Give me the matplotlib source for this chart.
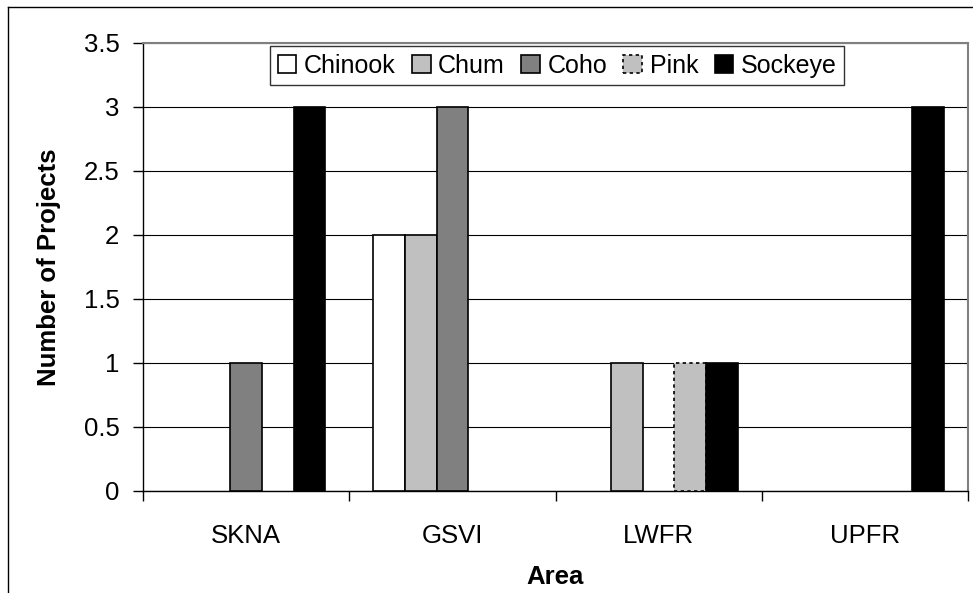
import matplotlib.pyplot as plt
from matplotlib.lines import Line2D
import numpy as np

plt.rcParams['font.family'] = ['Liberation Sans', 'DejaVu Sans']

areas = ['SKNA', 'GSVI', 'LWFR', 'UPFR']
species = ['Chinook', 'Chum', 'Coho', 'Pink', 'Sockeye']
chinook = [0, 2, 0, 0]
chum = [0, 2, 1, 0]
coho = [1, 3, 0, 0]
pink = [0, 0, 1, 0]
sockeye = [3, 0, 1, 3]
yticks = [0, 0.5, 1, 1.5, 2, 2.5, 3, 3.5]

series = [chinook, chum, coho, pink, sockeye]
fills = ['white', '#c0c0c0', '#808080', '#c0c0c0', 'black']
styles = ['solid', 'solid', 'solid', (0, (2, 2)), 'solid']

fig = plt.figure(figsize=(9.73, 5.93), dpi=100)
ax = fig.add_axes([143/973, 1 - 491/593, 825/973, 448/593])

x = np.arange(len(areas))
w = 1 / 6.5
for i, vals in enumerate(series):
    vals = np.array(vals, dtype=float)
    keep = vals > 0
    ax.bar((x + (i - 2) * w)[keep], vals[keep], w, color=fills[i], edgecolor='black',
           linewidth=1.2, linestyle=styles[i], zorder=3)
    # legend proxy
    ax.bar([0], [0], 0, color=fills[i], edgecolor='black', linewidth=1.2,
           linestyle=styles[i], label=species[i])

ax.set_xlim(-0.5, 3.5)
ax.set_ylim(0, 3.5)
ax.set_yticks(yticks)
ax.set_yticklabels(['0', '0.5', '1', '1.5', '2', '2.5', '3', '3.5'])
ax.yaxis.grid(True, color='black', linewidth=0.8, zorder=0)
ax.set_xticks(x)
ax.set_xticklabels(areas)
ax.set_xticks(np.arange(-0.5, 4, 1), minor=True)
ax.tick_params(axis='x', which='major', length=0, pad=24, labelsize=18.5)
ax.tick_params(axis='x', which='minor', length=7, width=1, direction='out')
ax.tick_params(axis='y', length=7, width=1, labelsize=18.5, pad=10)

for s in ['top', 'right']:
    ax.spines[s].set_color('#808080')
    ax.spines[s].set_linewidth(1.5)
for s in ['left', 'bottom']:
    ax.spines[s].set_color('black')
    ax.spines[s].set_linewidth(1)

ax.set_xlabel('Area', fontsize=18.5, fontweight='bold', labelpad=12)
ax.set_ylabel('Number of Projects', fontsize=18.5, fontweight='bold', labelpad=16)

leg = ax.legend(loc='upper center', bbox_to_anchor=(0.502, 0.993), ncol=5,
                fontsize=18, frameon=True, fancybox=False, edgecolor='black',
                handlelength=0.75, handleheight=0.75, handletextpad=0.3,
                columnspacing=0.65, borderpad=0.3, borderaxespad=0.0)
leg.get_frame().set_linewidth(1)

# outer chart border (cut off at right and bottom)
fig.add_artist(Line2D([8/973, 1], [1 - 7/593, 1 - 7/593], color='black', linewidth=1))
fig.add_artist(Line2D([8/973, 8/973], [0, 1 - 7/593], color='black', linewidth=1))

fig.savefig('out.png', dpi=100)
